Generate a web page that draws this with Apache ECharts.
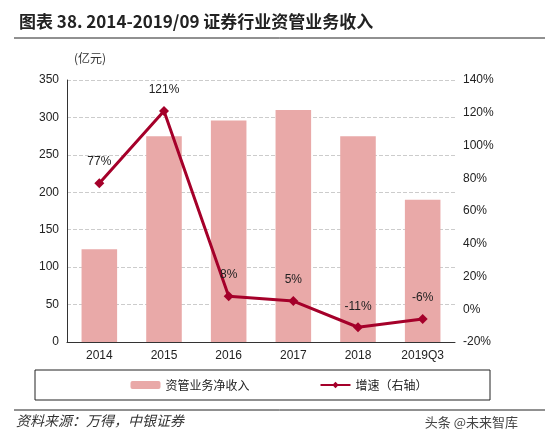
<!DOCTYPE html>
<html><head><meta charset="utf-8">
<script src="https://cdn.jsdelivr.net/npm/echarts@6/dist/echarts.min.js"></script>
<style>body{margin:0;background:#fff}#c{width:558px;height:448px}</style>
</head><body><div id="c"></div>
<script>
const years = ['2014', '2015', '2016', '2017', '2018', '2019Q3'];
const income = [124, 275, 296, 310, 275, 190];
const growth = [77, 121, 8, 5, -11, -6];

const font = '"Noto Sans CJK SC", "Liberation Sans", sans-serif';
const chart = echarts.init(document.getElementById('c'));
chart.setOption({
  animation: false,
  textStyle: { fontFamily: font },
  title: {
    text: '图表 38. 2014-2019/09 证券行业资管业务收入',
    left: 14, top: 8,
    textStyle: { fontSize: 17, fontWeight: 'bold', color: '#222', fontFamily: font }
  },
  grid: { left: 67, right: 103, top: 80, bottom: 106 },
  legend: {
    bottom: 52, left: 'center', itemGap: 70, itemWidth: 30, itemHeight: 8,
    textStyle: { fontSize: 12, color: '#222' },
    data: [{ name: '资管业务净收入' }, { name: '增速（右轴）' }]
  },
  graphic: [
    { type: 'line', shape: { x1: 14, y1: 38, x2: 545, y2: 38 }, style: { stroke: '#222', lineWidth: 1 } },
    { type: 'rect', shape: { x: 35, y: 370, width: 455, height: 30 }, style: { fill: 'none', stroke: '#222', lineWidth: 1 } },
    { type: 'line', shape: { x1: 14, y1: 410, x2: 545, y2: 410 }, style: { stroke: '#222', lineWidth: 1 } },
    { type: 'text', left: 16, top: 414, style: { text: '资料来源：万得，中银证券', font: 'italic 14px ' + font, fill: '#333' } },
    { type: 'text', right: 40, top: 416, style: { text: '头条 @未来智库', font: '13px ' + font, fill: '#444' } },
    { type: 'text', left: 74, top: 52, style: { text: '(亿元)', font: '12px ' + font, fill: '#333' } }
  ],
  xAxis: {
    type: 'category', data: years,
    axisLine: { lineStyle: { color: '#333' } },
    axisTick: { show: false },
    axisLabel: { color: '#222', fontSize: 12, fontFamily: 'Liberation Sans' }
  },
  yAxis: [
    { type: 'value', min: 0, max: 350, interval: 50,
      axisLine: { show: true, lineStyle: { color: '#333' } },
      axisLabel: { color: '#222', fontSize: 12, fontFamily: 'Liberation Sans' },
      splitLine: { lineStyle: { color: '#ccc', type: 'dashed' } } },
    { type: 'value', min: -20, max: 140, interval: 20,
      axisLine: { show: false },
      axisLabel: { color: '#222', fontSize: 12, formatter: '{value}%', fontFamily: 'Liberation Sans' },
      splitLine: { show: false } }
  ],
  series: [
    { name: '资管业务净收入', type: 'bar', data: income, barWidth: '55%',
      itemStyle: { color: '#e9a9a8' } },
    { name: '增速（右轴）', type: 'line', yAxisIndex: 1, data: growth,
      symbol: 'diamond', symbolSize: 10,
      lineStyle: { color: '#a5002a', width: 3 }, itemStyle: { color: '#a5002a' },
      label: { show: true, position: 'top', distance: 10, formatter: '{c}%', color: '#222', fontSize: 12, fontFamily: 'Liberation Sans' } }
  ]
});
</script></body></html>
